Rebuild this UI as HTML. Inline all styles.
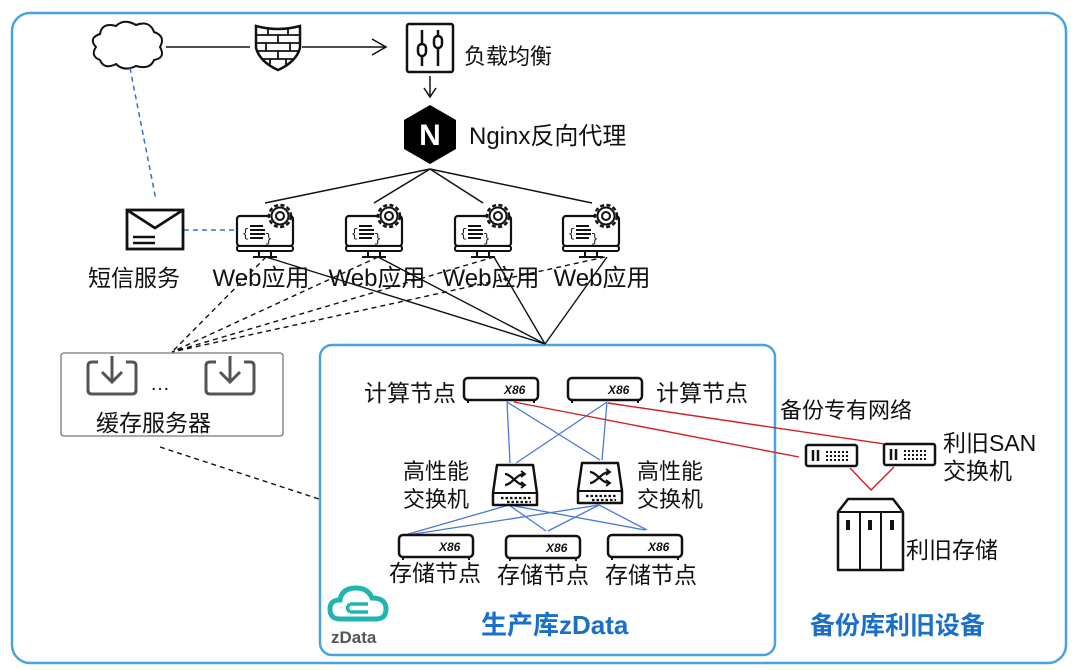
<!DOCTYPE html>
<html><head><meta charset="utf-8"><style>
html,body{margin:0;padding:0;background:#fff;}
svg{display:block;}
text{font-family:"Liberation Sans","Noto Sans CJK SC",sans-serif;fill:#111;}
</style></head><body>
<svg width="1080" height="670" viewBox="0 0 1080 670" xmlns="http://www.w3.org/2000/svg">
<defs>
<g id="mon">
 <rect x="0" y="0" width="56" height="30" rx="3" fill="#fff" stroke="#111" stroke-width="2.2"/>
 <line x1="0" y1="30" x2="56" y2="30" stroke="#111" stroke-width="2"/>
 <rect x="0" y="30" width="56" height="5" rx="2" fill="#fff" stroke="#111" stroke-width="2"/>
 <line x1="22" y1="35" x2="22" y2="40" stroke="#111" stroke-width="2"/>
 <line x1="34" y1="35" x2="34" y2="40" stroke="#111" stroke-width="2"/>
 <line x1="16" y1="41" x2="40" y2="41" stroke="#111" stroke-width="2"/>
 <text x="5" y="21" font-size="12" style="font-family:'Liberation Mono',monospace">{</text>
 <line x1="13" y1="10" x2="26" y2="10" stroke="#111" stroke-width="2"/>
 <line x1="13" y1="14" x2="28" y2="14" stroke="#111" stroke-width="2"/>
 <line x1="13" y1="18" x2="28" y2="18" stroke="#111" stroke-width="2"/>
 <line x1="13" y1="22" x2="26" y2="22" stroke="#111" stroke-width="2"/>
 <text x="28" y="26" font-size="12" style="font-family:'Liberation Mono',monospace">}</text>
 <circle cx="43" cy="0" r="11" fill="#fff" stroke="#111" stroke-width="2.5" stroke-dasharray="4 2.5"/>
 <circle cx="43" cy="0" r="8.5" fill="#fff" stroke="#111" stroke-width="2"/>
 <circle cx="43" cy="0" r="4" fill="#fff" stroke="#111" stroke-width="2"/>
</g>
<g id="x86">
 <rect x="0" y="0" width="74" height="22" rx="4" fill="#fff" stroke="#111" stroke-width="2.5"/>
 <line x1="4" y1="22" x2="4" y2="25" stroke="#111" stroke-width="2"/>
 <line x1="70" y1="22" x2="70" y2="25" stroke="#111" stroke-width="2"/>
 <text x="40" y="16" font-size="12" font-style="italic" font-weight="bold">X86</text>
</g>
<g id="sw">
 <path d="M4 0 H40 L44 28 V40 H0 V28 Z" fill="#fff" stroke="#111" stroke-width="2.5" stroke-linejoin="round"/>
 <line x1="0" y1="28" x2="44" y2="28" stroke="#111" stroke-width="2"/>
 <path d="M12 9 C18 9 24 20 31 20 M12 20 C18 20 24 9 31 9" fill="none" stroke="#111" stroke-width="2.2"/>
 <path d="M28 6 L32 9 L28 12 M28 17 L32 20 L28 23" fill="none" stroke="#111" stroke-width="1.8"/>
 <g stroke="#111" stroke-width="2.2" stroke-dasharray="2.5 2"><line x1="8" y1="33" x2="38" y2="33"/><line x1="14" y1="37" x2="38" y2="37"/></g>
</g>
<g id="san">
 <rect x="0" y="0" width="51" height="21" rx="2" fill="#fff" stroke="#111" stroke-width="2.5"/>
 <line x1="7" y1="5" x2="7" y2="16" stroke="#111" stroke-width="2.5"/>
 <line x1="12" y1="5" x2="12" y2="16" stroke="#111" stroke-width="2.5"/>
 <g stroke="#111" stroke-width="2" stroke-dasharray="2 2"><line x1="20" y1="7" x2="44" y2="7"/><line x1="20" y1="11" x2="44" y2="11"/><line x1="20" y1="15" x2="44" y2="15"/></g>
</g>
<g id="dl">
 <path d="M10 6 H4 Q0 6 0 10 V34 Q0 38 4 38 H44 Q48 38 48 34 V10 Q48 6 44 6 H38" fill="none" stroke="#555" stroke-width="3"/>
 <line x1="24" y1="0" x2="24" y2="26" stroke="#555" stroke-width="3"/>
 <path d="M14 16 L24 26 L34 16" fill="none" stroke="#555" stroke-width="3"/>
</g>
</defs>

<rect x="12" y="13" width="1054" height="650" rx="18" fill="none" stroke="#4aa3df" stroke-width="2.5"/>
<rect x="320" y="345" width="455" height="310" rx="12" fill="none" stroke="#4aa3df" stroke-width="2.5"/>

<path d="M100 60 Q90 56 96 47 Q88 38 100 34 Q102 22 116 26 Q124 18 136 25 Q150 20 154 32 Q166 36 160 47 Q166 58 154 60 Q150 70 136 66 Q124 72 116 64 Q104 70 100 60 Z" fill="#fff" stroke="#111" stroke-width="2"/>
<line x1="166" y1="47" x2="250" y2="47" stroke="#111" stroke-width="1.5"/>
<path d="M256 26 Q278 32 300 26 L300 48 Q296 62 278 70 Q260 62 256 48 Z" fill="#fff" stroke="#111" stroke-width="2.5"/>
<g stroke="#111" stroke-width="1.8">
<line x1="257" y1="35" x2="299" y2="35"/><line x1="257" y1="43" x2="299" y2="43"/><line x1="258" y1="51" x2="298" y2="51"/><line x1="262" y1="59" x2="294" y2="59"/>
<line x1="268" y1="29" x2="268" y2="35"/><line x1="288" y1="29" x2="288" y2="35"/><line x1="278" y1="35" x2="278" y2="43"/><line x1="266" y1="43" x2="266" y2="51"/><line x1="290" y1="43" x2="290" y2="51"/><line x1="278" y1="51" x2="278" y2="59"/><line x1="270" y1="59" x2="270" y2="65"/><line x1="286" y1="59" x2="286" y2="65"/>
</g>
<line x1="302" y1="47" x2="386" y2="47" stroke="#111" stroke-width="1.5"/>
<path d="M372 39 L386 47 L372 55" fill="none" stroke="#111" stroke-width="1.5"/>
<rect x="407" y="24" width="46" height="48" rx="2" fill="#fff" stroke="#111" stroke-width="2.5"/>
<line x1="422" y1="30" x2="422" y2="66" stroke="#111" stroke-width="2.5"/>
<line x1="438" y1="30" x2="438" y2="66" stroke="#111" stroke-width="2.5"/>
<rect x="418" y="44" width="8" height="12" rx="4" fill="#fff" stroke="#111" stroke-width="2.5"/>
<rect x="434" y="36" width="8" height="12" rx="4" fill="#fff" stroke="#111" stroke-width="2.5"/>
<text x="464" y="64" font-size="22">负载均衡</text>
<line x1="430" y1="76" x2="430" y2="97" stroke="#111" stroke-width="1.5"/>
<path d="M424 88 L430 97 L436 88" fill="none" stroke="#111" stroke-width="1.5"/>
<path d="M430 105 L456 120 L456 149 L430 164 L404 149 L404 120 Z" fill="#000"/>
<text x="430" y="145" font-size="30" font-weight="bold" text-anchor="middle" style="fill:#fff">N</text>
<text x="469" y="144" font-size="24">Nginx反向代理</text>
<g stroke="#111" stroke-width="1.5">
<line x1="430" y1="169" x2="265" y2="203"/><line x1="430" y1="169" x2="374" y2="203"/><line x1="430" y1="169" x2="483" y2="203"/><line x1="430" y1="169" x2="592" y2="203"/>
</g>
<g stroke="#3a6fd0" stroke-width="1.5" stroke-dasharray="5 4">
<line x1="130" y1="68" x2="156" y2="200"/><line x1="184" y1="230" x2="236" y2="230"/>
</g>
<rect x="127" y="210" width="56" height="39" fill="#fff" stroke="#111" stroke-width="2.8"/>
<path d="M127 210 L155 228 L183 210" fill="none" stroke="#111" stroke-width="2.8"/>
<line x1="133" y1="237" x2="155" y2="237" stroke="#111" stroke-width="2.5"/>
<line x1="133" y1="243" x2="155" y2="243" stroke="#111" stroke-width="2.5"/>
<text x="88" y="286" font-size="23">短信服务</text>
<use href="#mon" x="237" y="216"/>
<use href="#mon" x="346" y="216"/>
<use href="#mon" x="455" y="216"/>
<use href="#mon" x="563" y="216"/>
<g stroke="#111" stroke-width="1.4">
<line x1="266" y1="257" x2="545" y2="344"/><line x1="378" y1="257" x2="545" y2="344"/><line x1="494" y1="257" x2="545" y2="344"/><line x1="607" y1="257" x2="545" y2="344"/>
</g>
<g stroke="#111" stroke-width="1.4" stroke-dasharray="5 4">
<line x1="266" y1="257" x2="172" y2="352"/><line x1="378" y1="257" x2="172" y2="352"/><line x1="494" y1="257" x2="172" y2="352"/><line x1="605" y1="257" x2="172" y2="352"/>
<line x1="160" y1="447" x2="322" y2="500"/>
</g>
<g font-size="24" text-anchor="middle">
<text x="261" y="286">Web应用</text><text x="377" y="286">Web应用</text><text x="491" y="286">Web应用</text><text x="602" y="286">Web应用</text>
</g>
<rect x="61" y="353" width="222" height="83" rx="3" fill="#fff" stroke="#777" stroke-width="1.3"/>
<use href="#dl" x="88" y="356"/>
<use href="#dl" x="206" y="356"/>
<text x="150" y="390" font-size="20">…</text>
<text x="96" y="431" font-size="23">缓存服务器</text>

<g stroke="#4a78d4" stroke-width="1.3">
<line x1="507" y1="402" x2="510" y2="463"/><line x1="507" y1="402" x2="600" y2="460"/>
<line x1="607" y1="402" x2="516" y2="463"/><line x1="607" y1="402" x2="602" y2="460"/>
<line x1="509" y1="505" x2="405" y2="535"/><line x1="509" y1="505" x2="546" y2="531"/><line x1="509" y1="505" x2="645" y2="530"/>
<line x1="599" y1="505" x2="408" y2="535"/><line x1="599" y1="505" x2="548" y2="531"/><line x1="599" y1="505" x2="647" y2="530"/>
</g>
<g stroke="#d42020" stroke-width="1.4" fill="none">
<line x1="514" y1="402" x2="799" y2="457"/>
<line x1="608" y1="403" x2="898" y2="446"/>
<polyline points="850,468 871,490 894,467"/>
</g>
<use href="#x86" x="464" y="378"/>
<use href="#x86" x="568" y="378"/>
<text x="364" y="401" font-size="23">计算节点</text>
<text x="656" y="401" font-size="23">计算节点</text>
<use href="#sw" x="493" y="465"/>
<use href="#sw" x="578" y="463"/>
<text x="403" y="479" font-size="22">高性能</text><text x="403" y="507" font-size="22">交换机</text>
<text x="637" y="479" font-size="22">高性能</text><text x="637" y="507" font-size="22">交换机</text>
<use href="#x86" x="399" y="535"/>
<use href="#x86" x="506" y="536"/>
<use href="#x86" x="608" y="535"/>
<text x="389" y="581" font-size="23">存储节点</text>
<text x="497" y="583" font-size="23">存储节点</text>
<text x="605" y="583" font-size="23">存储节点</text>

<text x="780" y="418" font-size="22">备份专有网络</text>
<use href="#san" x="806" y="445"/>
<use href="#san" x="884" y="444"/>
<text x="943" y="451" font-size="23">利旧SAN</text>
<text x="943" y="479" font-size="23">交换机</text>
<path d="M838 512 L848 499 H893 L903 512 V570 H838 Z" fill="#fff" stroke="#111" stroke-width="2.5" stroke-linejoin="round"/>
<line x1="838" y1="512" x2="903" y2="512" stroke="#111" stroke-width="2"/>
<line x1="860" y1="512" x2="860" y2="570" stroke="#111" stroke-width="2"/>
<line x1="881" y1="512" x2="881" y2="570" stroke="#111" stroke-width="2"/>
<rect x="846" y="520" width="4" height="10" fill="#111"/><rect x="868" y="520" width="4" height="10" fill="#111"/><rect x="890" y="520" width="4" height="10" fill="#111"/>
<text x="906" y="558" font-size="23">利旧存储</text>

<path d="M340 619 Q330 619 330 609 Q330 600 340 600 Q342 588 356 588 Q368 588 372 598 Q386 598 386 609 Q386 619 376 619 Z" fill="none" stroke="#22b5b0" stroke-width="5"/>
<path d="M350 604 H368 M350 612 H368 M350 604 Q345 608 350 612" fill="none" stroke="#22b5b0" stroke-width="3.5"/>
<text x="331" y="643" font-size="17" font-weight="bold" style="fill:#555">zData</text>
<text x="481" y="634" font-size="26" font-weight="bold" style="fill:#1a6fc8">生产库zData</text>
<text x="810" y="634" font-size="25" font-weight="bold" style="fill:#1a6fc8">备份库利旧设备</text>
</svg>
</body></html>
